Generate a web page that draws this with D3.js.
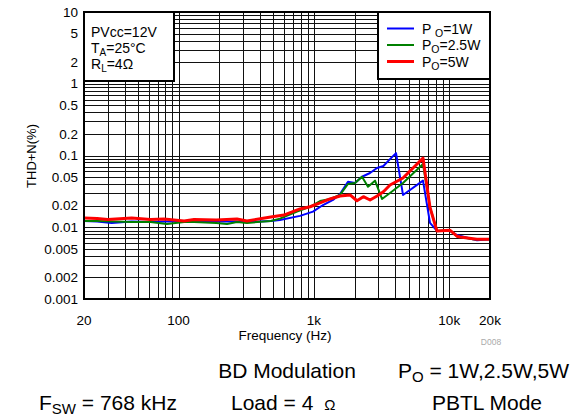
<!DOCTYPE html>
<html>
<head>
<meta charset="utf-8">
<script src="https://cdn.jsdelivr.net/npm/d3@7"></script>
<style>
html,body{margin:0;padding:0;background:#fff;}
svg{display:block;font-family:"Liberation Sans",Arial,Helvetica,sans-serif;}
</style>
</head>
<body>
<svg id="chart" width="587" height="417"></svg>
<script>
// ---- data ----
const freqBlue = [20,25,32,45,62,80,110,130,190,270,320,480,561,789,984,1167,1384,1558,1785,2012,2266,2597,2925,3261,3650,4042,4552,6396,7205,8117,10127,11410,14982,16036,20000];
const thdBlue  = [0.0122,0.0120,0.0115,0.0120,0.0118,0.0120,0.0120,0.0122,0.0120,0.0120,0.0118,0.0122,0.0126,0.0144,0.0165,0.0204,0.0240,0.0290,0.0431,0.0414,0.0506,0.0570,0.0669,0.0714,0.0890,0.108,0.0282,0.0446,0.0115,0.0089,0.0089,0.0078,0.0068,0.0066,0.0068];

const freqGreen = [20,25,45,62,82,110,130,190,228,270,320,480,561,750,936,1109,1315,1558,1785,2012,2266,2510,2828,3184,3650,4552,6396,7205,8117,10127,11410,14982,20000];
const thdGreen  = [0.0122,0.0122,0.0118,0.0118,0.0111,0.0118,0.0118,0.0115,0.0111,0.0118,0.0115,0.0122,0.0132,0.0165,0.0193,0.0232,0.0248,0.0282,0.0401,0.0414,0.0506,0.0367,0.0446,0.0248,0.0300,0.0414,0.0761,0.0190,0.0089,0.0091,0.0075,0.0068,0.0068];

const freqRed = [20,25,30,45,62,78,110,130,190,270,320,480,600,713,790,936,1110,1315,1560,1850,2080,2320,2600,2930,3260,3650,4550,5400,6400,7200,8100,10100,11400,12000,16000,20000];
const thdRed  = [0.0135,0.0132,0.0128,0.0135,0.0128,0.0130,0.0122,0.0128,0.0126,0.0130,0.0122,0.0139,0.0148,0.0168,0.0180,0.0193,0.0218,0.0248,0.0273,0.0282,0.0234,0.0267,0.0240,0.0273,0.0313,0.0388,0.0486,0.0669,0.092,0.0190,0.0089,0.0091,0.0075,0.0073,0.0068,0.0068];

const yTickValues = [10,5,2,1,0.5,0.2,0.1,0.05,0.02,0.01,0.005,0.002,0.001];
const yTickLabels = ["10","5","2","1","0.5","0.2","0.1","0.05","0.02","0.01","0.005","0.002","0.001"];
const xTickValues = [20,100,1000,10000,20000];
const xTickLabels = ["20","100","1k","10k","20k"];

const seriesNames = ["1W","2.5W","5W"];
const seriesColors = ["#0000ff","#008000","#ff0000"];

// ---- layout ----
const L = 84, R = 490, T = 12, B = 299;
const svg = d3.select("#chart");
const x = d3.scaleLog().domain([20,20000]).range([L,R]);
const y = d3.scaleLog().domain([0.001,10]).range([B,T]);

// grid values (1..9 per decade)
const xGrid = [];
for (let d = 10; d <= 10000; d *= 10) for (let m = 1; m <= 9; m++) { const v = d*m; if (v > 20 && v < 20000) xGrid.push(v); }
const yGrid = [];
for (let d = 0.001; d < 10; d *= 10) for (let m = 1; m <= 9; m++) { const v = +(d*m).toPrecision(3); if (v > 0.001 && v < 10) yGrid.push(v); }

const grid = svg.append("g").attr("stroke","#111").attr("stroke-width",1).attr("shape-rendering","crispEdges");
grid.selectAll("line.vx").data(xGrid).join("line")
  .attr("x1",d=>Math.round(x(d))+0.5).attr("x2",d=>Math.round(x(d))+0.5).attr("y1",T).attr("y2",B);
grid.selectAll("line.hy").data(yGrid).join("line")
  .attr("y1",d=>Math.round(y(d))+0.5).attr("y2",d=>Math.round(y(d))+0.5).attr("x1",L).attr("x2",R);

// clip
svg.append("clipPath").attr("id","clip").append("rect").attr("x",L).attr("y",T).attr("width",R-L).attr("height",B-T);

const line = d3.line().x(d=>x(d[0])).y(d=>y(d[1]));
const series = [
  {f:freqBlue, v:thdBlue, c:seriesColors[0], w:2},
  {f:freqGreen, v:thdGreen, c:seriesColors[1], w:2},
  {f:freqRed, v:thdRed, c:seriesColors[2], w:3}
];
const curves = svg.append("g").attr("clip-path","url(#clip)");
series.forEach(s=>{
  curves.append("path").datum(s.f.map((f,i)=>[f,s.v[i]]))
    .attr("d",line).attr("fill","none").attr("stroke",s.c).attr("stroke-width",s.w)
    .attr("stroke-linejoin","round");
});

// frame
svg.append("rect").attr("x",L).attr("y",T).attr("width",R-L).attr("height",B-T)
  .attr("fill","none").attr("stroke","#000").attr("stroke-width",2);

// y tick labels
svg.append("g").selectAll("text").data(yTickValues).join("text")
  .attr("x",78).attr("y",d=>y(d)).attr("dy","0.35em").attr("text-anchor","end")
  .attr("font-size",13.5).attr("fill","#000").text((d,i)=>yTickLabels[i]);

// x tick labels
svg.append("g").selectAll("text").data(xTickValues).join("text")
  .attr("x",d=>x(d)).attr("y",325).attr("text-anchor","middle")
  .attr("font-size",13.5).attr("fill","#000").text((d,i)=>xTickLabels[i]);

// axis titles
svg.append("text").attr("x",(L+R)/2 - 2).attr("y",340).attr("text-anchor","middle")
  .attr("font-size",13.5).text("Frequency (Hz)");
svg.append("text").attr("transform","translate(36,156) rotate(-90)").attr("text-anchor","middle")
  .attr("font-size",13).text("THD+N(%)");
svg.append("text").attr("x",491).attr("y",345).attr("text-anchor","middle")
  .attr("font-size",8.5).attr("fill","#aaa").text("D008");

// annotation box
svg.append("rect").attr("x",L).attr("y",T).attr("width",90).attr("height",69)
  .attr("fill","#fff").attr("stroke","#000").attr("stroke-width",2);
const ann = svg.append("g").attr("font-size",14);
ann.append("text").attr("x",91).attr("y",37).text("PVcc=12V");
const t2 = ann.append("text").attr("x",91).attr("y",53);
t2.append("tspan").text("T");
t2.append("tspan").attr("font-size",10).attr("dy",3).text("A");
t2.append("tspan").attr("dy",-3).text("=25°C");
const t3 = ann.append("text").attr("x",91).attr("y",69);
t3.append("tspan").text("R");
t3.append("tspan").attr("font-size",10).attr("dy",3).text("L");
t3.append("tspan").attr("dy",-3).text("=4Ω");

// legend box
svg.append("rect").attr("x",378).attr("y",T).attr("width",R-378).attr("height",67)
  .attr("fill","#fff").attr("stroke","#000").attr("stroke-width",2);
const legY = [28.5,45,61.5];
const leg = svg.append("g");
seriesNames.forEach((n,i)=>{
  leg.append("line").attr("x1",387).attr("x2",414).attr("y1",legY[i]).attr("y2",legY[i])
    .attr("stroke",seriesColors[i]).attr("stroke-width",i===2?3:2);
  const t = leg.append("text").attr("x",422).attr("y",legY[i]+5).attr("font-size",14);
  t.append("tspan").text(i===0?"P ":"P");
  t.append("tspan").attr("font-size",10.5).attr("dy",3).text("O");
  t.append("tspan").attr("dy",-3).text("="+n);
});

// bottom notes
const notes = svg.append("g").attr("font-size",21);
notes.append("text").attr("x",287).attr("y",378).attr("text-anchor","middle").text("BD Modulation");
const po = notes.append("text").attr("x",398).attr("y",378);
po.append("tspan").text("P");
po.append("tspan").attr("font-size",15).attr("dy",4).text("O");
po.append("tspan").attr("dy",-4).text(" = 1W,2.5W,5W");
const fsw = notes.append("text").attr("x",39).attr("y",410);
fsw.append("tspan").text("F");
fsw.append("tspan").attr("font-size",15).attr("dy",4).text("SW");
fsw.append("tspan").attr("dy",-4).text(" = 768 kHz");
const ld = notes.append("text").attr("x",231).attr("y",410);
ld.append("tspan").text("Load = 4 ");
ld.append("tspan").attr("font-size",15).attr("dx",5).text("Ω");
notes.append("text").attr("x",487).attr("y",410).attr("text-anchor","middle").text("PBTL Mode");
</script>
</body>
</html>
